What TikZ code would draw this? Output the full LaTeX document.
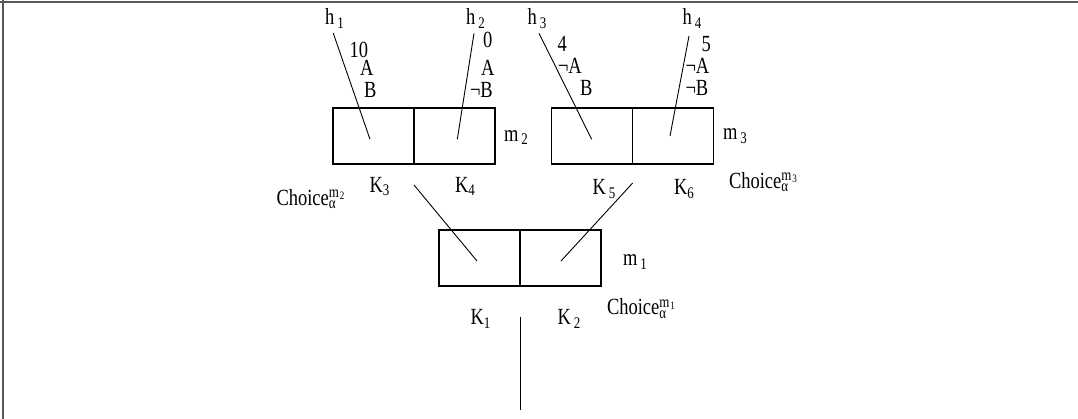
\documentclass[tikz,border=0pt]{standalone}
\usepackage{fontspec}
\setmainfont{Liberation Serif}
\newcommand\vs[1]{\scalebox{1}[1.25]{#1}}
\newcommand\sub[1]{\kern3pt\textsubscript{#1}}
\newcommand\chm[1]{Choice\rlap{\textsubscript{α}}\textsuperscript{m\kern1pt\textsubscript{#1}}}
\begin{document}
\begin{tikzpicture}[x=1pt,y=-1pt,
  lbl/.style={inner sep=0pt,outer sep=0pt,anchor=base west,font=\fontsize{18.5}{20}\selectfont},
  cell/.style={draw,line width=1.2pt,minimum width=81pt,minimum height=56pt,inner sep=0pt,outer sep=0pt},
  conn/.style={line width=0.9pt}]
\useasboundingbox (0,0) rectangle (1078,419);
\draw[line width=2pt,black!65] (0,2.5) -- (1078,2.5);
\draw[line width=2pt,black!65] (2.5,0) -- (2.5,419);
% boxes
\node[cell] (m2a) at (373.5,136) {};
\node[cell] (m2b) at (454.5,136) {};
\node[cell] (m3a) at (592.3,136) {};
\node[cell] (m3b) at (673.3,136) {};
\node[cell] (m1a) at (479.5,258) {};
\node[cell] (m1b) at (560.5,258) {};
% labels
\node[lbl] (h1) at (325,25) {\vs{h\sub{1}}};
\node[lbl] (v1) at (349.5,58) {\vs{10}};
\node[lbl] (a1) at (360,76) {\vs{A}};
\node[lbl] (b1) at (364,98) {\vs{B}};
\node[lbl] (h2) at (466,25) {\vs{h\sub{2}}};
\node[lbl] (v2) at (483,48) {\vs{0}};
\node[lbl] (a2) at (481,76) {\vs{A}};
\node[lbl] (b2) at (470,98) {\vs{¬B}};
\node[lbl] (h3) at (527.5,25) {\vs{h\sub{3}}};
\node[lbl] (v3) at (557.5,51.5) {\vs{4}};
\node[lbl] (a3) at (558,74) {\vs{¬A}};
\node[lbl] (b3) at (580,96) {\vs{B}};
\node[lbl] (h4) at (682.5,25) {\vs{h\sub{4}}};
\node[lbl] (v4) at (701.5,51.5) {\vs{5}};
\node[lbl] (a4) at (685.5,74) {\vs{¬A}};
\node[lbl] (b4) at (685.5,96) {\vs{¬B}};
\node[lbl] (lm2) at (504,141.5) {\vs{m\sub{2}}};
\node[lbl] (lm3) at (723,140) {\vs{m\sub{3}}};
\node[lbl] (lm1) at (623,266) {\vs{m\sub{1}}};
\node[lbl] (k3) at (369.5,192.5) {\vs{K\textsubscript{3}}};
\node[lbl] (k4) at (455,192.5) {\vs{K\textsubscript{4}}};
\node[lbl] (k5) at (592.5,195) {\vs{K\sub{5}}};
\node[lbl] (k6) at (674,195) {\vs{K\textsubscript{6}}};
\node[lbl] (k1) at (470.5,325) {\vs{K\textsubscript{1}}};
\node[lbl] (k2) at (557.5,325) {\vs{K\sub{2}}};
\node[lbl] (c2) at (276.5,205.5) {\vs{\chm{2}}};
\node[lbl] (c3) at (729,188.5) {\vs{\chm{3}}};
\node[lbl] (c1) at (607,315) {\vs{\chm{1}}};
% connector ends
\coordinate (s1) at (333.3,33.3); \coordinate (e1) at (370,139.3);
\coordinate (s2) at (474,33.3);   \coordinate (e2) at (457.3,139.3);
\coordinate (s3) at (539,33.3);   \coordinate (e3) at (591.7,139.3);
\coordinate (s4) at (689,36);     \coordinate (e4) at (670,136);
\coordinate (s5) at (414,185);    \coordinate (e5) at (477,261);
\coordinate (s6) at (632.7,183);  \coordinate (e6) at (561,261);
\coordinate (s7) at (520,317);    \coordinate (e7) at (520,410);
\draw[conn] (s1) -- (e1);
\draw[conn] (s2) -- (e2);
\draw[conn] (s3) -- (e3);
\draw[conn] (s4) -- (e4);
\draw[conn] (s5) -- (e5);
\draw[conn] (s6) -- (e6);
\draw[conn] (s7) -- (e7);
\end{tikzpicture}
\end{document}
